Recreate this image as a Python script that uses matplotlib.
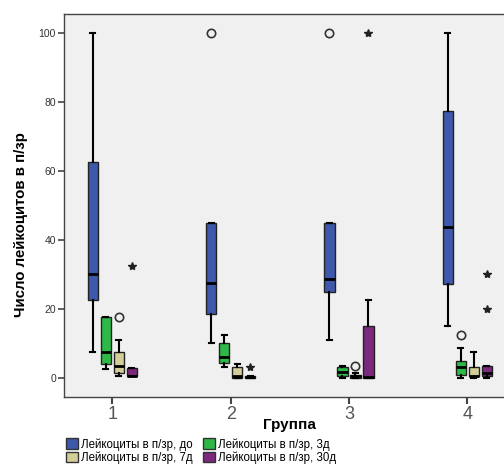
import matplotlib
matplotlib.use("Agg")
import matplotlib.pyplot as plt
from matplotlib.patches import Patch

plt.rcParams['font.family'] = ['Liberation Sans', 'DejaVu Sans']

groups = [1, 2, 3, 4]
series = ['Лейкоциты в п/зр, до', 'Лейкоциты в п/зр, 3д',
          'Лейкоциты в п/зр, 7д', 'Лейкоциты в п/зр, 30д']
colors = ['#3E58AC', '#2EB848', '#D3CE97', '#7C287D']

# box statistics per series, one value per group
whislo = [[7.5, 10, 11, 15], [2.5, 3, 0, 0], [0.5, 0, 0, 0], [0.5, 0, 0, 0]]
q1 = [[22.5, 18.5, 25, 27.3], [4, 4.2, 0.6, 0.9], [1.5, 0, 0, 0.5], [0.5, 0, 0, 0.5]]
med = [[30, 27.5, 28.7, 43.7], [7.5, 6, 1.6, 3], [3.5, 0.5, 0.4, 0.5], [0.5, 0.2, 0.2, 1.5]]
q3 = [[62.5, 45, 45, 77.5], [17.5, 10, 3, 5], [7.5, 3, 0.8, 3], [2.8, 0.5, 15, 3.5]]
whishi = [[100, 45, 45, 100], [17.5, 12.5, 3.5, 8.5], [11, 4, 1.5, 7.5], [2.8, 0.5, 22.5, 3.5]]

# outliers (circles) and extremes (stars)
circles = [[[], [100], [100], []], [[], [], [], [12.5]],
           [[17.5], [], [3.5], []], [[], [], [], []]]
stars = [[[], [], [], []], [[], [], [], []],
         [[], [], [], []], [[32.5], [3], [100], [30, 20]]]

offsets = [-0.165, -0.055, 0.055, 0.165]
box_w = 0.087

fig = plt.figure(figsize=(5.04, 4.65), dpi=100)
ax = fig.add_axes([64.3 / 504, 1 - 396.7 / 465, (515.3 - 64.3) / 504, (396.7 - 13.7) / 465])
ax.set_facecolor('#F0F0F0')

for s in range(4):
    stats = []
    for g in range(4):
        stats.append(dict(med=med[s][g], q1=q1[s][g], q3=q3[s][g],
                          whislo=whislo[s][g], whishi=whishi[s][g],
                          fliers=circles[s][g]))
    pos = [groups[g] + offsets[s] for g in range(4)]
    ax.bxp(stats, positions=pos, widths=box_w, patch_artist=True,
           boxprops=dict(facecolor=colors[s], edgecolor='#222222', linewidth=1),
           medianprops=dict(color='black', linewidth=2),
           whiskerprops=dict(color='black', linewidth=1.5),
           capprops=dict(color='black', linewidth=1.5),
           capwidths=box_w * 0.5,
           flierprops=dict(marker='o', markersize=6, markerfacecolor='none',
                           markeredgecolor='#333333', markeredgewidth=1.2))
    for g in range(4):
        for v in stars[s][g]:
            ax.plot(groups[g] + offsets[s], v, marker='*', color='#222222',
                    markersize=6, linestyle='none')

ax.set_xlim(0.594, 4.406)
ax.set_ylim(-5.5, 105.7)
ax.set_xticks(groups)
ax.set_xticklabels([str(g) for g in groups])
ax.set_yticks([0, 20, 40, 60, 80, 100])
ax.tick_params(axis='x', direction='out', length=5, width=1.5, color='#444444',
               labelsize=13, labelcolor='#555555', pad=2)
ax.tick_params(axis='y', direction='out', length=4, width=1.2, color='#444444',
               labelsize=7.5, labelcolor='#333333', pad=2)
for sp in ax.spines.values():
    sp.set_color('#444444')
    sp.set_linewidth(1)

ax.set_xlabel('Группа', fontsize=11, fontweight='bold', labelpad=-4)
ax.set_ylabel('Число лейкоцитов в п/зр', fontsize=10.8, fontweight='bold')
ax.yaxis.set_label_coords(-0.08, 0.45)

# legend is filled column by column: reorder so rows read до/3д, 7д/30д
order = [0, 2, 1, 3]
handles = [Patch(facecolor=colors[i], edgecolor='#333333', linewidth=1) for i in order]
fig.legend(handles, [series[i] for i in order], ncol=2, loc='upper left',
           bbox_to_anchor=(0.131, 0.058),
           frameon=False, fontsize=8.3, handlelength=1.0, handleheight=1.0,
           handletextpad=0.3, columnspacing=0.9, labelspacing=0.1, borderaxespad=0,
           borderpad=0)

fig.savefig('out.png', dpi=100)
